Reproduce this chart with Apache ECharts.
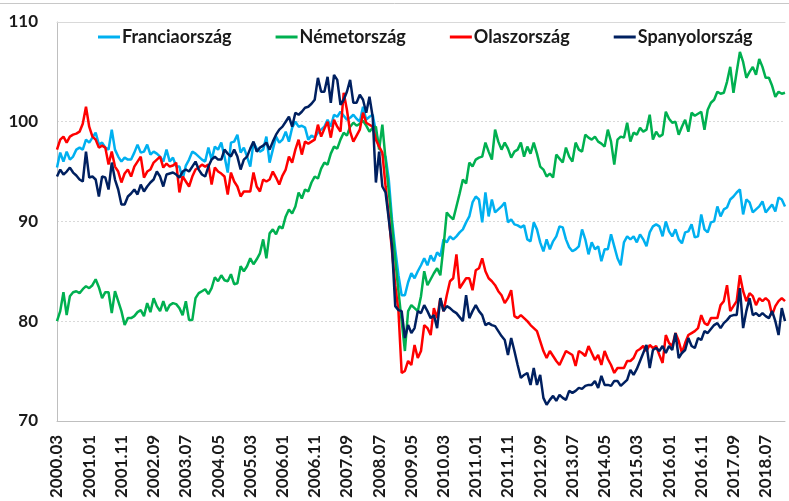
<!DOCTYPE html>
<html>
<head>
<meta charset="utf-8">
<script src="https://cdn.jsdelivr.net/npm/echarts@6/dist/echarts.min.js"></script>
<style>
  html, body { margin: 0; padding: 0; background: #fff; }
  #chart { width: 789px; height: 501px; }
</style>
</head>
<body>
<div id="chart"></div>
<script>
// monthly index values, 2000.03 onwards
const franciaorszag = [
  95.4, 96.9, 96.0, 97.0, 96.2, 96.5, 97.2, 97.4, 97.2, 98.2,
  97.9, 98.4, 98.9, 97.7, 97.9, 97.4, 97.2, 99.2, 97.2, 96.5,
  96.0, 96.4, 96.2, 96.2, 96.9, 97.7, 96.9, 97.0, 97.7, 96.7,
  97.0, 96.8, 96.5, 96.0, 97.2, 96.0, 96.4, 95.5, 95.5, 94.2,
  95.6, 96.2, 97.0, 96.8, 96.5, 96.2, 96.0, 97.4, 96.2, 97.5,
  97.2, 97.9, 96.5, 94.9, 97.9, 98.0, 98.7, 96.9, 97.4, 96.5,
  95.5, 97.9, 97.3, 97.0, 97.2, 98.5, 95.9, 97.2, 98.5, 97.9,
  98.2, 99.0, 98.0, 99.4, 100.0, 99.5, 99.6, 99.4, 98.2, 98.6,
  98.4, 98.9, 99.2, 99.5, 100.2, 99.5, 100.7, 100.5, 101.0, 100.6,
  100.2, 100.4, 100.7, 100.3, 100.0, 101.5, 100.2, 100.5, 100.7, 99.0,
  97.5, 96.7, 96.5, 94.2, 90.2, 87.2, 84.6, 82.6, 82.6, 83.9,
  84.8, 84.3, 85.0, 85.6, 86.3, 85.6, 86.6, 86.0, 86.9, 86.5,
  88.2, 87.9, 88.5, 88.2, 88.5, 88.9, 89.2, 89.9, 90.5, 91.9,
  92.5, 92.2, 89.9, 92.9, 90.5, 92.2, 90.9, 91.2, 91.5, 91.9,
  89.9, 90.2, 89.7, 89.6, 89.4, 89.6, 88.2, 88.0, 89.9, 89.2,
  87.9, 87.0, 88.2, 87.2, 88.0, 88.5, 89.5, 89.4, 88.2, 87.4,
  87.0, 87.2, 87.5, 89.2, 88.2, 86.7, 87.9, 87.2, 87.5, 86.0,
  87.2, 87.2, 88.7, 87.5, 86.3, 85.6, 87.9, 88.5, 88.2, 88.5,
  87.9, 88.7, 88.2, 87.5, 88.9, 89.5, 89.7, 89.5, 88.5, 90.0,
  89.0, 88.5, 89.2, 88.2, 87.8, 88.9, 89.0, 89.7, 88.4, 88.5,
  90.7, 89.2, 88.9, 89.9, 90.0, 91.5, 90.5, 91.2, 91.4, 92.2,
  92.5, 92.9, 93.2, 90.7, 92.2, 91.9, 90.9, 91.2, 91.5, 92.0,
  90.9, 91.3, 91.7, 91.0, 92.4, 92.2, 91.5
]

const nemetorszag = [
  80.0, 81.0, 82.9, 80.6, 82.5, 82.9, 83.0, 82.8, 83.2, 83.5,
  83.3, 83.6, 84.2, 83.4, 82.3, 82.9, 82.9, 80.8, 83.0, 82.0,
  81.0, 79.6, 80.3, 80.3, 80.5, 80.9, 81.1, 80.5, 81.8, 80.9,
  82.3, 81.5, 81.0, 82.0, 81.0, 81.6, 81.8, 81.7, 81.3, 80.6,
  82.0, 80.1, 80.1, 82.3, 82.8, 83.0, 83.2, 82.7, 83.3, 84.4,
  84.0, 84.6, 84.1, 84.0, 84.7, 83.7, 83.8, 85.5, 85.0, 85.5,
  86.3, 85.7, 86.2, 86.8, 88.2, 86.3, 88.8, 89.2, 88.7, 89.5,
  89.3, 90.5, 91.2, 90.8, 91.5, 92.9, 92.3, 93.2, 93.0, 93.9,
  94.5, 94.3, 95.3, 95.9, 95.7, 96.8, 97.5, 97.3, 98.2, 98.9,
  98.6, 99.5, 99.9, 99.6, 99.8, 100.1, 99.6, 99.0, 99.4, 99.5,
  97.2, 99.7, 96.2, 93.0, 89.6, 86.2, 83.0, 80.0, 77.0, 81.0,
  81.6, 81.3, 81.0, 82.5, 85.0, 83.6, 84.2, 84.8, 85.3, 84.6,
  87.5, 90.9, 90.5, 90.2, 91.5, 92.8, 94.2, 93.8, 95.9, 95.5,
  96.2, 96.4, 96.5, 97.9, 97.0, 96.2, 99.2, 98.0, 97.2, 97.9,
  97.3, 96.4, 97.0, 97.2, 97.9, 96.5, 97.5, 96.8, 97.9, 96.8,
  95.5, 95.2, 94.5, 94.8, 94.4, 96.7, 96.3, 95.9, 97.4, 96.5,
  96.0, 97.9, 97.2, 97.0, 98.7, 98.4, 98.2, 98.5, 98.0, 97.8,
  97.5, 99.2, 98.0, 95.7, 98.2, 98.5, 98.4, 99.9, 98.0, 98.9,
  98.7, 99.4, 99.0, 99.2, 100.7, 98.2, 99.0, 98.5, 98.7, 101.0,
  100.3, 99.9, 100.0, 98.7, 99.5, 100.2, 99.0, 100.9, 100.6, 100.8,
  101.0, 99.2, 101.2, 101.9, 102.2, 103.0, 102.8, 102.9, 104.0, 105.5,
  102.9, 105.0, 107.0, 106.0, 104.4, 105.0, 105.5, 104.7, 106.3, 105.5,
  104.4, 104.4, 103.6, 102.5, 103.0, 102.8, 102.9
]

const olaszorszag = [
  97.2, 98.2, 98.5, 97.9, 98.5, 98.7, 98.8, 99.0, 99.8, 101.5,
  99.5, 98.5, 98.2, 97.4, 97.6, 97.4, 95.7, 97.0, 95.5, 95.0,
  93.9, 94.8, 95.2, 94.5, 95.5, 96.0, 96.5, 94.4, 95.0, 95.2,
  95.9, 96.2, 96.5, 95.4, 95.8, 95.5, 95.6, 95.9, 92.9, 94.5,
  94.0, 93.5, 94.5, 95.2, 95.4, 95.7, 95.5, 95.7, 93.7, 95.4,
  95.0, 94.8, 94.5, 92.7, 94.9, 94.0, 93.5, 92.5, 93.0, 93.0,
  93.0, 94.9, 93.5, 93.0, 94.2, 94.0, 94.2, 95.0, 94.4, 93.7,
  94.6, 95.2, 96.5, 95.9, 97.2, 98.2, 96.7, 98.0, 97.8, 98.0,
  98.2, 99.7, 98.5, 99.3, 100.0, 98.4, 100.2, 99.5, 99.0, 102.9,
  101.2, 99.0, 98.0, 98.6, 99.2, 100.9, 99.9, 99.7, 99.5, 98.2,
  97.5, 96.9, 93.5, 90.5, 87.0, 83.6, 81.0, 74.8, 75.0, 76.0,
  75.6, 77.6, 76.3, 77.0, 79.6, 79.3, 78.6, 81.3, 80.3, 82.3,
  81.0, 82.6, 84.0, 84.3, 86.7, 83.3, 83.8, 84.3, 84.3, 83.1,
  85.1, 85.3, 86.3, 85.0, 84.3, 84.0, 83.6, 83.0, 82.6, 81.8,
  82.3, 83.1, 80.5, 80.3, 80.6, 80.3, 80.0, 79.6, 79.3, 79.0,
  78.0, 77.0, 76.3, 77.0, 76.5, 76.0, 75.6, 76.3, 77.0, 76.8,
  76.6, 75.5, 77.0, 76.8, 76.5, 77.5, 76.8, 76.1, 76.6, 75.6,
  77.0, 76.2, 75.6, 74.8, 75.3, 75.3, 75.3, 76.0, 76.0, 76.3,
  77.0, 77.2, 77.5, 77.0, 77.6, 77.3, 77.5, 76.6, 75.8, 78.6,
  77.8, 77.5, 78.8, 78.0, 76.8, 77.8, 78.6, 78.8, 79.0, 79.3,
  80.6, 79.8, 79.6, 80.3, 80.3, 80.3, 81.6, 82.0, 83.6, 81.0,
  81.5, 82.0, 84.6, 83.0, 82.0, 82.8, 82.5, 81.6, 82.3, 82.0,
  82.3, 82.0, 80.6, 81.5, 82.0, 82.3, 82.0
]

const spanyolorszag = [
  94.5, 95.2, 94.7, 95.0, 95.4, 94.9, 94.6, 94.2, 94.0, 97.0,
  94.4, 94.5, 94.2, 92.5, 94.5, 94.4, 93.2, 95.9, 94.2, 93.2,
  91.7, 91.7, 92.5, 92.8, 93.2, 92.7, 93.7, 93.0, 93.5, 93.9,
  94.2, 95.0, 94.5, 93.5, 94.7, 94.8, 94.9, 94.7, 94.4, 95.0,
  95.2, 95.0, 95.5, 96.0, 95.2, 94.7, 94.5, 95.5, 96.2, 96.5,
  96.2, 96.2, 97.2, 96.8, 96.5, 97.2, 96.5, 95.2, 96.2, 96.5,
  97.3, 98.0, 97.0, 97.4, 97.6, 97.9, 97.2, 98.0, 98.7, 99.2,
  99.5, 100.0, 100.5, 99.5, 100.9, 100.7, 101.0, 101.4, 101.5, 101.8,
  102.2, 104.4, 103.0, 103.0, 104.5, 101.9, 104.7, 104.2, 101.7, 102.2,
  103.0, 104.2, 101.9, 101.9, 102.7, 102.2, 100.9, 102.5, 100.5, 93.9,
  97.0, 93.5, 92.9, 90.2, 87.5, 81.5, 81.1, 81.0, 78.3, 79.6,
  78.8, 79.3, 81.0, 80.8, 81.6, 81.0, 80.3, 80.6, 79.3, 82.3,
  81.0, 81.5, 81.3, 81.0, 80.8, 80.4, 80.0, 82.6, 80.3, 81.0,
  81.6, 81.0, 80.6, 79.6, 79.8, 79.6, 79.5, 79.0, 78.5, 78.1,
  76.6, 78.3, 77.0, 75.6, 74.3, 74.6, 74.8, 73.6, 75.3, 73.6,
  74.6, 72.3, 71.6, 72.1, 72.5, 72.0, 72.6, 72.3, 72.1, 73.0,
  72.8, 73.0, 73.3, 73.2, 73.5, 73.6, 73.6, 74.0, 73.3, 74.5,
  73.6, 73.6, 73.5, 74.0, 74.0, 73.5, 73.8, 74.1, 75.1, 74.6,
  75.2, 76.0, 76.8, 77.6, 75.3, 77.1, 77.3, 77.0, 77.5, 76.8,
  77.5, 77.1, 78.8, 76.3, 76.8, 77.1, 78.3, 77.5, 77.3, 78.3,
  78.1, 79.0, 78.8, 79.2, 79.6, 79.8, 79.3, 79.8, 80.1, 80.5,
  80.6, 80.6, 83.3, 79.3, 81.0, 82.3, 80.6, 80.8, 80.5, 80.8,
  80.5, 80.3, 81.0, 80.0, 78.6, 81.3, 80.0
]

const seriesNames = ['Franciaország', 'Németország', 'Olaszország', 'Spanyolország']
const seriesColors = ['#00b0f0', '#00b050', '#ff0000', '#002060']
const seriesData = [franciaorszag, nemetorszag, olaszorszag, spanyolorszag]

const yMin = 70
const yMax = 110
const yStep = 10

// categories: one per month, starting 2000.03
const startYear = 2000
const startMonth = 3
const months = []
for (let i = 0; i < franciaorszag.length; i++) {
  const m = startMonth - 1 + i
  const year = startYear + Math.floor(m / 12)
  const month = (m % 12) + 1
  months.push(year + '.' + String(month).padStart(2, '0'))
}

const font = 'Lato, "Open Sans", sans-serif'

const chart = echarts.init(document.getElementById('chart'), null, { renderer: 'canvas' })

chart.setOption({
  animation: false,
  backgroundColor: '#fff',
  grid: { left: 57, right: 4, top: 22, bottom: 77 },
  legend: {
    left: 93,
    top: 23,
    itemGap: 44,
    itemWidth: 22,
    itemHeight: 3,
    icon: 'rect',
    textStyle: { fontFamily: font, fontWeight: 'bold', fontSize: 18, color: '#1a1a1a', padding: [0, 0, 0, -3] },
    data: seriesNames
  },
  graphic: [{
    type: 'line',
    shape: { x1: 0, y1: 3.5, x2: 789, y2: 3.5 },
    style: { stroke: '#c8c8c8', lineWidth: 1 }
  }],
  xAxis: [{
    type: 'category',
    data: months,
    boundaryGap: false,
    axisLine: { lineStyle: { color: '#bfbfbf', width: 1 } },
    axisTick: { show: false },
    axisLabel: {
      interval: 9,
      rotate: 90,
      margin: 14,
      fontFamily: font,
      fontWeight: 'bold',
      fontSize: 17,
      color: '#1a1a1a'
    },
    splitLine: { show: false }
  }, {
    type: 'category',
    data: months,
    boundaryGap: false,
    position: 'top',
    axisLine: { lineStyle: { color: '#d9d9d9', width: 1 } },
    axisTick: { show: false },
    axisLabel: { show: false }
  }],
  yAxis: {
    type: 'value',
    min: yMin,
    max: yMax,
    interval: yStep,
    axisLine: { show: true, lineStyle: { color: '#bfbfbf', width: 1 } },
    axisTick: { show: false },
    axisLabel: {
      margin: 19,
      fontFamily: font,
      fontWeight: 'bold',
      fontSize: 17,
      color: '#1a1a1a'
    },
    splitLine: { lineStyle: { color: '#d9d9d9', type: [2, 2], width: 1 } }
  },
  series: seriesNames.map((name, k) => ({
    name: name,
    type: 'line',
    data: seriesData[k],
    showSymbol: false,
    symbol: 'none',
    color: seriesColors[k],
    lineStyle: { width: 2.5, color: seriesColors[k] }
  }))
})
</script>
</body>
</html>
